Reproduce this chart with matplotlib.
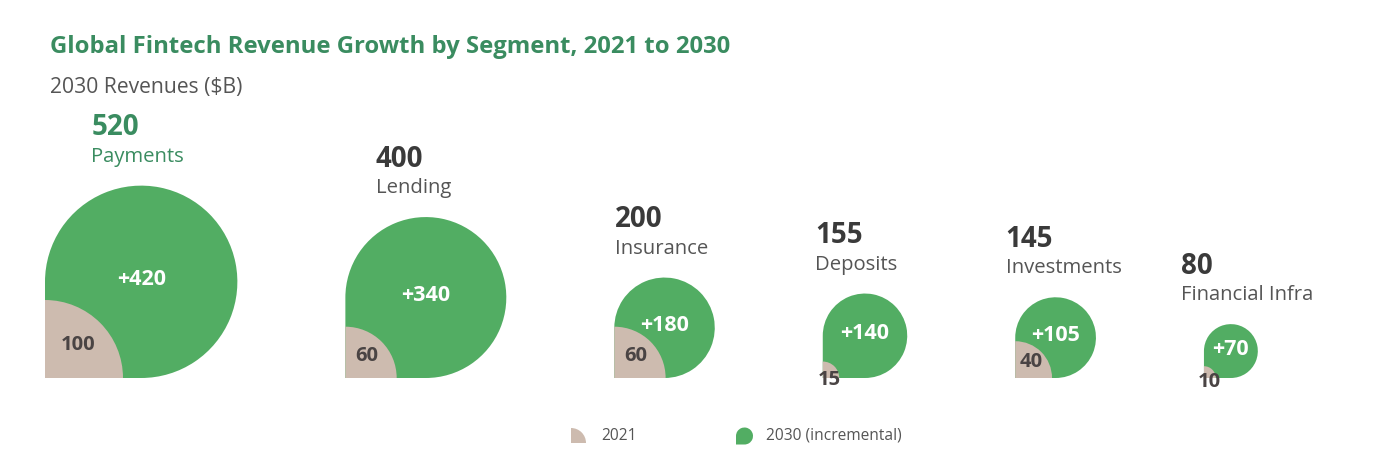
import numpy as np
import matplotlib
matplotlib.use("Agg")
import matplotlib.pyplot as plt
from matplotlib.path import Path
from matplotlib.patches import PathPatch, Wedge

# ---- data ----
segments = ["Payments", "Lending", "Insurance", "Deposits", "Investments", "Financial Infra"]
rev_2030 = [520, 400, 200, 155, 145, 80]
rev_2021 = [100, 60, 60, 15, 40, 10]
incremental = [420, 340, 180, 140, 105, 70]

title = "Global Fintech Revenue Growth by Segment, 2021 to 2030"
subtitle = "2030 Revenues ($B)"
legend_labels = ["2021", "2030 (incremental)"]

# ---- style ----
GREEN = "#52AD63"
TAN = "#CDBBAF"
TITLE_GREEN = "#3A8C60"
DARK = "#3A3A3A"
GRAY = "#555555"
FONT = ["Open Sans", "DejaVu Sans"]
plt.rcParams['font.family'] = FONT

W, H = 1400, 471
fig = plt.figure(figsize=(W / 100, H / 100), dpi=100)
ax = fig.add_axes([0, 0, 1, 1])
ax.set_xlim(0, W)
ax.set_ylim(0, H)
ax.axis("off")

BASE = H - 378  # baseline of the shapes (y up)


def big_radius(t):
    return np.exp(3.934 + 0.68 * (np.log(t) - 5.324))


def small_radius(v):
    return 78 * (v / 100.0) ** 0.82


def drop_path(x0, y0, R):
    """circle of radius R whose bottom-left quadrant is a square corner at (x0, y0)"""
    cx, cy = x0 + R, y0 + R
    arc = Path.arc(-90, 180)
    verts = arc.vertices * R + np.array([cx, cy])
    codes = list(arc.codes)
    verts = np.vstack([verts, [[x0, y0], [x0, y0]]])
    codes += [Path.LINETO, Path.CLOSEPOLY]
    return Path(verts, codes)


radii = [big_radius(t) for t in rev_2030]
smalls = [small_radius(v) for v in rev_2021]

left = 45
gap = 108
x0 = left
for i, (seg, tot, old, inc) in enumerate(zip(segments, rev_2030, rev_2021, incremental)):
    R = radii[i]
    r = smalls[i]
    ax.add_patch(PathPatch(drop_path(x0, BASE, R), facecolor=GREEN, edgecolor="none"))
    ax.add_patch(Wedge((x0, BASE), r, 0, 90, facecolor=TAN, edgecolor="none"))
    cx, cy = x0 + R, BASE + R
    ax.text(cx, cy + 2, f"+{inc}", ha="center", va="center", color="white",
            fontsize=15.5, fontweight="bold")
    off = 4 * r / (3 * np.pi)
    oy = off if r > 20 else off - 9
    ax.text(x0 + off, BASE + oy, f"{old}", ha="center", va="center", color="#4A4444",
            fontsize=14.5, fontweight="bold")
    top = BASE + 2 * R
    col = TITLE_GREEN if i == 0 else DARK
    lab_col = TITLE_GREEN if i == 0 else GRAY
    lx = cx - 50
    ax.text(lx, top + 29, seg, ha="left", va="center", color=lab_col, fontsize=14.6)
    ax.text(lx, top + 58, f"{tot}", ha="left", va="center", color=col,
            fontsize=20, fontweight="bold")
    x0 = x0 + 2 * R + gap

# title
ax.text(50, H - 47, title, ha="left", va="center", color=TITLE_GREEN,
        fontsize=17.2, fontweight="bold")
ax.text(50, H - 87, subtitle, ha="left", va="center", color=GRAY, fontsize=15.2)

# legend
LY = H - 436
ax.add_patch(Wedge((571, LY - 7), 15, 0, 90, facecolor=TAN, edgecolor="none"))
ax.text(601, LY, legend_labels[0], ha="left", va="center", color=GRAY, fontsize=11.2)
ax.add_patch(PathPatch(drop_path(736, LY - 8.5, 8.5), facecolor=GREEN, edgecolor="none"))
ax.text(766, LY, legend_labels[1], ha="left", va="center", color=GRAY, fontsize=11.2)

fig.savefig("out.png", dpi=100, facecolor="white")
